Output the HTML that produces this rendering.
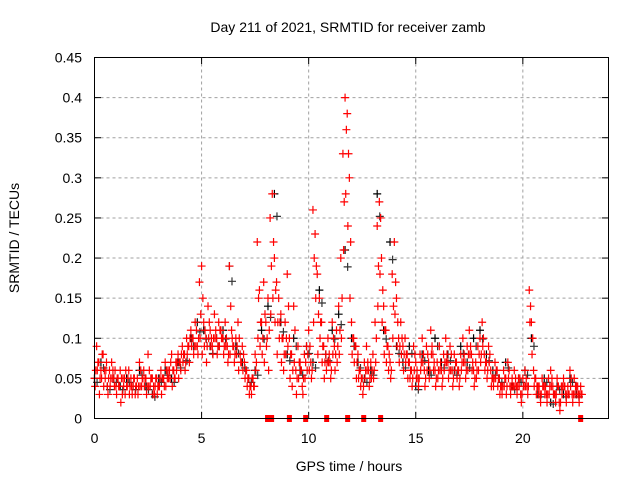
<!DOCTYPE html>
<html><head><meta charset="utf-8"><style>
html,body{margin:0;padding:0;background:#fff;}
svg{display:block;font-family:"Liberation Sans",sans-serif;}
</style></head><body>
<svg id="chart" width="640" height="480" viewBox="0 0 640 480">
<rect x="0" y="0" width="640" height="480" fill="#fff"/>
<text x="348" y="32" font-size="14" text-anchor="middle">Day 211 of 2021, SRMTID for receiver zamb</text>
<text transform="translate(19,238) rotate(-90)" font-size="14" text-anchor="middle">SRMTID / TECUs</text>
<text x="349" y="471" font-size="14" text-anchor="middle">GPS time / hours</text>
<g id="grid"></g>
<g id="ticks"></g>
<g id="marks"></g>
<rect x="94.5" y="57.5" width="514" height="361" fill="none" stroke="#000" stroke-width="1"/>
</svg>
<script>
const xTicks=[0,5,10,15,20];
const yTicks=[0,0.05,0.1,0.15,0.2,0.25,0.3,0.35,0.4,0.45];
const yTickLabels=["0","0.05","0.1","0.15","0.2","0.25","0.3","0.35","0.4","0.45"];
const redA=[.05,.09,.07,.06,.08,.05,.04,.06,.07,.05,.04,.05,.06,.03,.05,.04,.06,.05,.04,.03,.05,.07,.04,.06,.05,.08,.04,.05,.03,.05,.04,.06,.05,.07,.05,.06,.08,.06,.07,.08,.07,.09,.08,.10,.09,.11,.10,.12,.09,.17,.19,.12,.10,.14,.11,.09,.13,.10,.12,.11,.10,.12,.09,.19,.11,.09,.10,.12,.08,.09,.07,.06,.05,.04,.05,.08,.22,.16,.12,.17,.12,.15,.25,.28,.20,.17,.15,.13,.10,.12,.18,.10,.08,.14,.06,.09,.07,.04,.08,.09,.11,.07,.26,.23,.18,.15,.12,.09,.08,.10,.07,.12,.09,.11,.14,.20,.33,.40,.38,.30,.12,.10,.09,.08,.06,.05,.07,.09,.06,.07,.08,.12,.24,.27,.20,.14,.11,.09,.07,.18,.22,.15,.10,.12,.09,.10,.08,.07,.06,.09,.07,.05,.08,.10,.06,.09,.07,.11,.08,.06,.07,.09,.06,.08,.10,.07,.09,.06,.08,.07,.06,.08,.10,.07,.09,.11,.08,.06,.07,.09,.10,.12,.08,.07,.09,.06,.05,.07,.06,.05,.04,.06,.05,.07,.04,.05,.06,.04,.05,.03,.05,.06,.04,.16,.12,.06,.05,.04,.03,.05,.04,.03,.05,.06,.04,.03,.05,.02,.04,.05,.03,.04,.06,.03,.05,.04,.03,.04];
const redB=[.04,.06,.03,.05,.04,.06,.03,.04,.05,.04,.03,.04,.02,.05,.03,.04,.03,.04,.05,.04,.03,.04,.05,.04,.03,.04,.05,.03,.04,.03,.04,.03,.05,.04,.06,.05,.04,.05,.06,.05,.06,.07,.06,.08,.07,.09,.08,.09,.08,.10,.08,.09,.07,.10,.09,.08,.10,.08,.09,.10,.08,.09,.07,.08,.10,.07,.08,.06,.07,.06,.05,.04,.03,.03,.04,.06,.10,.09,.08,.07,.09,.06,.13,.15,.12,.08,.10,.07,.06,.08,.09,.05,.04,.07,.03,.05,.06,.03,.05,.06,.06,.05,.12,.15,.08,.10,.07,.05,.06,.07,.05,.08,.06,.07,.08,.10,.21,.28,.24,.15,.08,.07,.05,.05,.04,.03,.05,.06,.04,.05,.05,.07,.14,.18,.12,.08,.07,.06,.05,.10,.13,.09,.07,.08,.06,.07,.05,.05,.04,.06,.05,.04,.06,.07,.04,.06,.05,.08,.06,.04,.05,.06,.04,.06,.07,.05,.06,.04,.06,.05,.04,.06,.07,.05,.06,.08,.06,.04,.05,.06,.07,.09,.06,.05,.07,.04,.04,.05,.04,.03,.03,.04,.03,.05,.03,.04,.04,.03,.04,.02,.04,.04,.03,.12,.08,.04,.03,.03,.02,.04,.03,.02,.03,.04,.03,.02,.04,.01,.03,.04,.02,.03,.04,.02,.03,.03,.02,.03];
const redC=[.06,.07,.05,.08,.06,.07,.05,.05,.06,.06,.05,.04,.05,.04,.06,.05,.04,.03,.05,.04,.04,.06,.05,.05,.04,.06,.05,.04,.05,.04,.05,.05,.04,.06,.05,.07,.06,.05,.07,.07,.08,.08,.07,.09,.10,.10,.09,.11,.10,.13,.15,.11,.09,.12,.10,.10,.11,.09,.11,.10,.09,.10,.08,.14,.09,.08,.09,.10,.07,.08,.06,.05,.04,.05,.04,.07,.15,.12,.10,.13,.10,.11,.19,.22,.16,.12,.12,.10,.08,.10,.14,.08,.06,.11,.05,.07,.06,.05,.07,.08,.09,.06,.20,.19,.13,.12,.09,.07,.07,.08,.06,.10,.08,.09,.11,.15,.27,.36,.33,.22,.10,.09,.07,.06,.05,.04,.06,.07,.05,.06,.06,.10,.19,.25,.16,.11,.09,.08,.06,.14,.17,.12,.09,.10,.08,.08,.07,.06,.05,.08,.06,.05,.07,.08,.05,.08,.06,.09,.07,.05,.06,.07,.05,.07,.08,.06,.08,.05,.07,.06,.05,.07,.08,.06,.08,.09,.07,.05,.06,.08,.08,.10,.07,.06,.08,.05,.05,.06,.05,.04,.04,.05,.04,.06,.04,.04,.05,.04,.05,.03,.04,.05,.04,.14,.10,.05,.04,.04,.03,.04,.04,.03,.04,.05,.03,.03,.04,.02,.04,.04,.03,.03,.05,.03,.04,.04,.03,.03];
const blackVals=[.05,.07,.04,.05,.04,.05,.04,.06,.04,.03,.05,.06,.05,.07,.08,.10,.12,.11,.09,.10,.11,.19,.09,.07,.05,.06,.11,.14,.28,.12,.08,.10,.06,.09,.07,.16,.08,.11,.13,.21,.10,.07,.05,.06,.28,.11,.22,.09,.07,.09,.04,.08,.06,.10,.07,.08,.06,.09,.07,.10,.11,.08,.06,.05,.07,.04,.05,.06,.10,.03,.05,.02,.04,.03,.05,.03];
const zeroTimes=[8.08,8.27,9.1,9.86,10.84,11.82,12.57,13.36,22.7];
const NS="http://www.w3.org/2000/svg";
const X=t=>94.5+t*(514/24);
const Y=v=>418.5-v*(361/0.45);
function mk(tag,attrs,parent){const e=document.createElementNS(NS,tag);for(const k in attrs)e.setAttribute(k,attrs[k]);parent.appendChild(e);return e;}
const grid=document.getElementById('grid'),ticks=document.getElementById('ticks'),marks=document.getElementById('marks');
xTicks.forEach(t=>{const x=X(t);
 if(t>0){const g=mk('line',{x1:x,y1:57.5,x2:x,y2:418.5,stroke:'#a0a0a0','stroke-dasharray':'3,3'},grid);
 
 }
 mk('line',{x1:x,y1:418.5,x2:x,y2:412,stroke:'#000'},ticks);
 mk('line',{x1:x,y1:57.5,x2:x,y2:64,stroke:'#000'},ticks);
 const l=mk('text',{x:x,y:443,'font-size':14,'text-anchor':'middle'},ticks);l.textContent=t;
 
 
});
yTicks.forEach((v,i)=>{const y=Y(v);
 if(i>0&&i<yTicks.length-1){const g=mk('line',{x1:94.5,y1:y,x2:608.5,y2:y,stroke:'#a0a0a0','stroke-dasharray':'3,3'},grid);
 
 }
 mk('line',{x1:94.5,y1:y,x2:101,y2:y,stroke:'#000'},ticks);
 mk('line',{x1:608.5,y1:y,x2:602,y2:y,stroke:'#000'},ticks);
 const l=mk('text',{x:82,y:y+5,'font-size':14,'text-anchor':'end'},ticks);l.textContent=yTickLabels[i];
 
 
});
function plus(t,v,col){const x=X(t),y=Y(v);
 const p=mk('path',{d:`M${x-4},${y}H${x+4}M${x},${y-4}V${y+4}`,stroke:col,'stroke-width':1.2,fill:'none'},marks);
 
 
}
blackVals.forEach((v,i)=>{plus(i*0.3,v,'#000');});
blackVals.forEach((v,i)=>{plus(i*0.3+0.12,v*0.9,'#333');});
redB.forEach((v,i)=>{plus(i*0.1+0.03,v,'#f00');});
redC.forEach((v,i)=>{plus(i*0.1+0.06,v,'#f00');});
redA.forEach((v,i)=>{plus(i*0.1,v,'#f00');});
zeroTimes.forEach(t=>{const r=mk('rect',{x:X(t)-2.5,y:415,width:5,height:7,fill:'#f00'},marks);
 
 
});
</script>
</body></html>
